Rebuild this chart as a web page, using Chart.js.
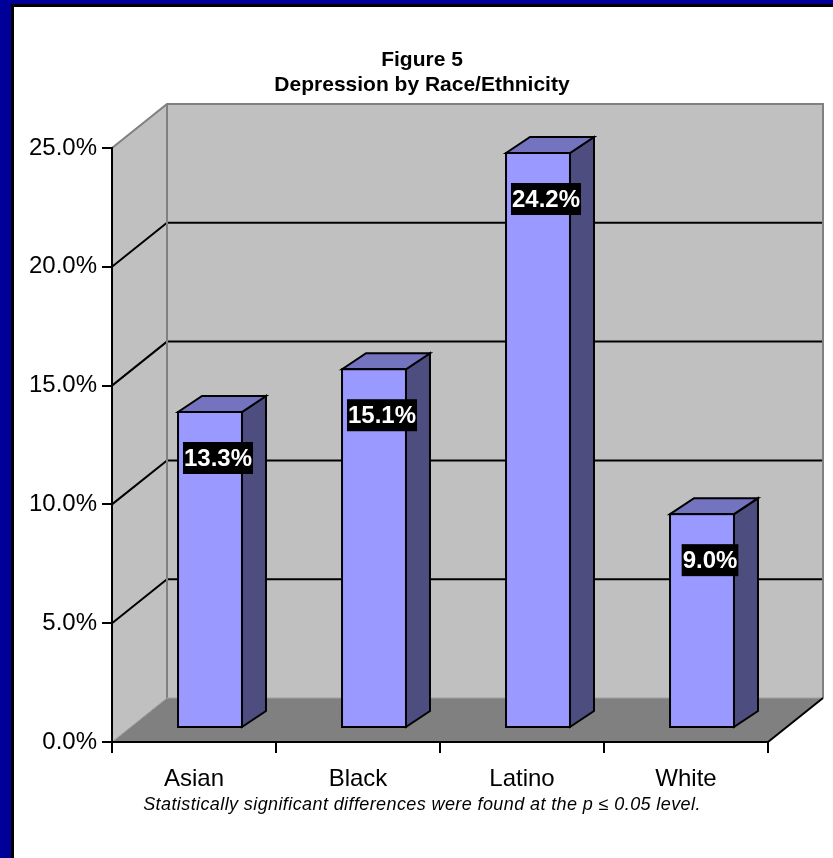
<!DOCTYPE html>
<html>
<head>
<meta charset="utf-8">
<title>Figure 5</title>
<script src="https://cdn.jsdelivr.net/npm/chart.js@4.4.0/dist/chart.umd.min.js"></script>
<style>
    html, body { margin: 0; padding: 0; background: #fff; }
</style>
</head>
<body>
<canvas id="myChart" width="833" height="858"></canvas>
<script>
// chart data
const categories = ['Asian', 'Black', 'Latino', 'White'];
const depressionRates = [13.3, 15.1, 24.2, 9.0]; // percent
const yTicks = [0, 5, 10, 15, 20, 25];
const titleLines = ['Figure 5', 'Depression by Race/Ethnicity'];
const footnote = 'Statistically significant differences were found at the p \u2264 0.05 level.';

// 3d depth of the plot box (back wall offset from the front plane)
const DEPTH_X = 55, DEPTH_Y = -44;
// bar front face / back face offsets from the front plane
const BAR_FRONT = [16, -14];
const BAR_BACK = [40, -30];

function poly(ctx, pts) {
    ctx.beginPath();
    ctx.moveTo(pts[0][0], pts[0][1]);
    for (let i = 1; i < pts.length; i++) ctx.lineTo(pts[i][0], pts[i][1]);
    ctx.closePath();
}

const box3d = {
    id: 'box3d',
    beforeDraw(chart) {
        const ctx = chart.ctx;
        const a = chart.chartArea;
        const yScale = chart.scales.y;
        const dx = DEPTH_X, dy = DEPTH_Y;
        ctx.save();
        // blue frame
        ctx.fillStyle = '#000099';
        ctx.fillRect(0, 0, chart.width, chart.height);
        ctx.fillStyle = '#000';
        ctx.fillRect(11, 4, chart.width - 11, chart.height - 4);
        ctx.fillStyle = '#fff';
        ctx.fillRect(14, 7, chart.width - 14, chart.height - 7);

        // side wall + back wall
        ctx.fillStyle = '#c0c0c0';
        poly(ctx, [[a.left, a.top], [a.left + dx, a.top + dy], [a.left + dx, a.bottom + dy], [a.left, a.bottom]]);
        ctx.fill();
        ctx.fillRect(a.left + dx, a.top + dy, a.right - a.left, a.bottom - a.top);

        // floor
        ctx.fillStyle = '#808080';
        poly(ctx, [[a.left, a.bottom], [a.right, a.bottom], [a.right + dx, a.bottom + dy], [a.left + dx, a.bottom + dy]]);
        ctx.fill();

        // gridlines
        ctx.strokeStyle = '#000';
        ctx.lineWidth = 2;
        yTicks.forEach(v => {
            if (v === yTicks[0] || v === yTicks[yTicks.length - 1]) return;
            const py = yScale.getPixelForValue(v);
            ctx.beginPath();
            ctx.moveTo(a.left, py);
            ctx.lineTo(a.left + dx, py + dy);
            ctx.lineTo(a.right + dx, py + dy);
            ctx.stroke();
        });

        // wall edges
        ctx.strokeStyle = '#808080';
        ctx.lineWidth = 2;
        ctx.beginPath();
        ctx.moveTo(a.left, a.top);
        ctx.lineTo(a.left + dx, a.top + dy);
        ctx.lineTo(a.right + dx, a.top + dy);
        ctx.lineTo(a.right + dx, a.bottom + dy);
        ctx.moveTo(a.left + dx, a.top + dy);
        ctx.lineTo(a.left + dx, a.bottom + dy);
        ctx.stroke();
        ctx.strokeStyle = '#a0a0a0';
        ctx.lineWidth = 1;
        ctx.beginPath();
        ctx.moveTo(a.left, a.bottom);
        ctx.lineTo(a.left + dx, a.bottom + dy);
        ctx.lineTo(a.right + dx, a.bottom + dy);
        ctx.stroke();
        // right floor edge
        ctx.strokeStyle = '#000';
        ctx.lineWidth = 2;
        ctx.beginPath();
        ctx.moveTo(a.right, a.bottom);
        ctx.lineTo(a.right + dx, a.bottom + dy);
        ctx.stroke();
        ctx.restore();
    },
    afterDatasetsDraw(chart) {
        const ctx = chart.ctx;
        const meta = chart.getDatasetMeta(0);
        ctx.save();
        ctx.lineWidth = 2;
        ctx.strokeStyle = '#000';
        ctx.lineJoin = 'miter';
        meta.data.forEach((bar, i) => {
            const p = bar.getProps(['x', 'y', 'base', 'width'], true);
            const l = p.x - p.width / 2 + BAR_FRONT[0];
            const r = p.x + p.width / 2 + BAR_FRONT[0];
            const t = p.y + BAR_FRONT[1];
            const b = p.base + BAR_FRONT[1];
            const sx = BAR_BACK[0] - BAR_FRONT[0];
            const sy = BAR_BACK[1] - BAR_FRONT[1];
            // side
            ctx.fillStyle = '#4d4d80';
            poly(ctx, [[r, t], [r + sx, t + sy], [r + sx, b + sy], [r, b]]);
            ctx.fill(); ctx.stroke();
            // top
            ctx.fillStyle = '#7373c0';
            poly(ctx, [[l, t], [l + sx, t + sy], [r + sx, t + sy], [r, t]]);
            ctx.fill(); ctx.stroke();
            // front
            ctx.fillStyle = '#9999ff';
            ctx.fillRect(l, t, r - l, b - t);
            ctx.strokeRect(l, t, r - l, b - t);

            // value label
            const txt = depressionRates[i].toFixed(1) + '%';
            ctx.font = 'bold 24px Arial, "Liberation Sans", sans-serif';
            const w = ctx.measureText(txt).width + 2;
            const cx = (l + r) / 2 + 8;
            const cy = t + 46;
            ctx.fillStyle = '#000';
            ctx.fillRect(cx - w / 2, cy - 16, w, 32);
            ctx.fillStyle = '#fff';
            ctx.textAlign = 'center';
            ctx.textBaseline = 'middle';
            ctx.fillText(txt, cx, cy + 1);
        });
        ctx.restore();
    },
    afterDraw(chart) {
        const ctx = chart.ctx;
        ctx.save();
        ctx.fillStyle = '#000';
        ctx.textAlign = 'center';
        ctx.textBaseline = 'middle';
        ctx.font = 'bold 21px Arial, "Liberation Sans", sans-serif';
        ctx.fillText(titleLines[0], 422, 60);
        ctx.fillText(titleLines[1], 422, 85);
        ctx.font = 'italic 18px Arial, "Liberation Sans", sans-serif';
        ctx.letterSpacing = '0.4px';
        ctx.fillText(footnote, 422, 805);
        ctx.restore();
    }
};

const chartElement = document.getElementById('myChart').getContext('2d');
window.myChart = new Chart(chartElement, {
    type: 'bar',
    data: {
        labels: categories,
        datasets: [
            {
                label: 'Depression',
                data: depressionRates,
                backgroundColor: 'rgba(0,0,0,0)',
                borderWidth: 0,
                categoryPercentage: 1,
                barPercentage: 0.39
            }
        ]
    },
    options: {
        responsive: false,
        animation: false,
        devicePixelRatio: 1,
        layout: {
            padding: { top: 148, right: 65, bottom: 0, left: 0 }
        },
        plugins: {
            legend: { display: false },
            title: { display: false },
            tooltip: { enabled: false }
        },
        scales: {
            x: {
                grid: {
                    display: true,
                    drawOnChartArea: false,
                    drawTicks: true,
                    tickLength: 11,
                    color: '#000',
                    lineWidth: 2,
                    offset: true
                },
                border: { display: true, color: '#000', width: 2 },
                ticks: {
                    color: '#000',
                    padding: 12,
                    font: { family: 'Arial, "Liberation Sans", sans-serif', size: 24 }
                },
                afterFit(scale) { scale.height = 116; }
            },
            y: {
                min: 0,
                max: 25,
                afterBuildTicks(scale) {
                    scale.ticks = yTicks.map(v => ({ value: v }));
                },
                grid: {
                    display: true,
                    drawOnChartArea: false,
                    drawTicks: true,
                    tickLength: 10,
                    color: '#000',
                    lineWidth: 2
                },
                border: { display: true, color: '#000', width: 2 },
                ticks: {
                    color: '#000',
                    padding: 5,
                    font: { family: 'Arial, "Liberation Sans", sans-serif', size: 24 },
                    callback: (v) => Number(v).toFixed(1) + '%'
                },
                afterFit(scale) { scale.width = 112; }
            }
        }
    },
    plugins: [box3d]
});
</script>
</body>
</html>
